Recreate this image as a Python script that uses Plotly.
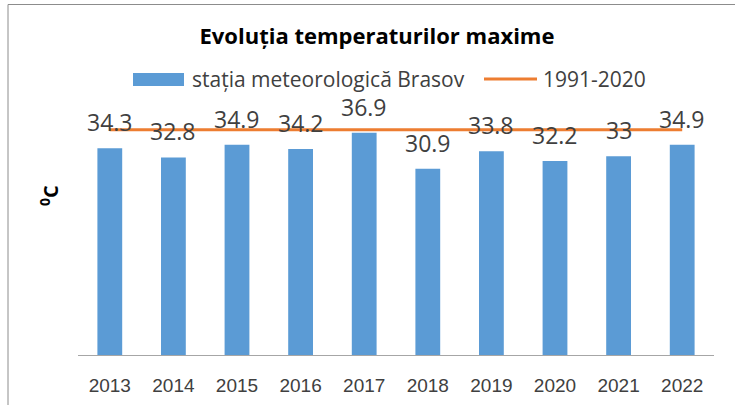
import plotly.graph_objects as go

years = ["2013", "2014", "2015", "2016", "2017", "2018", "2019", "2020", "2021", "2022"]
brasov = [34.3, 32.8, 34.9, 34.2, 36.9, 30.9, 33.8, 32.2, 33.0, 34.9]
normal_1991_2020 = [37.4] * len(years)
label_text = ["34.3", "32.8", "34.9", "34.2", "36.9", "30.9", "33.8", "32.2", "33", "34.9"]
series_names = ["stația meteorologică Brasov", "1991-2020"]
bar_color = "#5B9BD5"
line_color = "#ED7D31"

W, H = 735, 405
L, R, T, B = 78, 21, 114, 50
pw, ph = W - L - R, H - T - B

def px_x(px):
    return (px - L) / pw

def px_y(py):
    return (H - B - py) / ph

fig = go.Figure()
fig.add_trace(go.Bar(
    x=years, y=brasov, name=series_names[0], showlegend=False,
    marker=dict(color=bar_color, line=dict(width=0)),
))
fig.add_trace(go.Scatter(
    x=years, y=normal_1991_2020, name=series_names[1], mode="lines", showlegend=False,
    line=dict(color=line_color, width=3),
))

annotations = []
for i, (v, t) in enumerate(zip(brasov, label_text)):
    annotations.append(dict(
        x=i, y=v, xref="x", yref="y", text=t, showarrow=False,
        yanchor="middle", yshift=26,
        font=dict(family="Open Sans", size=23, color="#404040"),
    ))

# y-axis title (placed like the original, above the vertical centre)
annotations.append(dict(
    x=px_x(49), y=px_y(196), xref="paper", yref="paper", text="<b><sup>0</sup>C</b>",
    textangle=-90, showarrow=False, xanchor="center", yanchor="middle",
    font=dict(family="Open Sans", size=20, color="#000000"),
))

# legend texts
legend_font = dict(family="Open Sans", size=21, color="#404040")
annotations.append(dict(
    x=px_x(190), y=px_y(79), xref="paper", yref="paper", text=series_names[0],
    showarrow=False, xanchor="left", yanchor="middle", font=legend_font,
))
annotations.append(dict(
    x=px_x(541), y=px_y(79), xref="paper", yref="paper", text=series_names[1],
    showarrow=False, xanchor="left", yanchor="middle", font=legend_font,
))

shapes = [
    dict(type="line", xref="paper", yref="paper", x0=px_x(8), x1=px_x(740),
         y0=px_y(4.5), y1=px_y(4.5), line=dict(color="#8c8c8c", width=1)),
    dict(type="line", xref="paper", yref="paper", x0=px_x(8), x1=px_x(8),
         y0=px_y(4.5), y1=px_y(410), line=dict(color="#8c8c8c", width=1)),
    # legend symbols
    dict(type="rect", xref="paper", yref="paper", x0=px_x(133), x1=px_x(184),
         y0=px_y(86), y1=px_y(73), fillcolor=bar_color, line=dict(width=0)),
    dict(type="line", xref="paper", yref="paper", x0=px_x(484), x1=px_x(537),
         y0=px_y(79), y1=px_y(79), line=dict(color=line_color, width=3)),
]

fig.update_layout(
    width=W, height=H,
    margin=dict(l=L, r=R, t=T, b=B, autoexpand=False),
    paper_bgcolor="white", plot_bgcolor="white",
    bargap=0.61,
    showlegend=False,
    title=dict(text="<b>Evoluția temperaturilor maxime</b>", x=px_x(377), xref="paper",
               xanchor="center", y=1 - 36 / H, yanchor="middle",
               font=dict(family="Open Sans", size=22, color="#000000")),
    xaxis=dict(type="category", categoryorder="array", categoryarray=years,
               range=[-0.5, len(years) - 0.5], automargin=False,
               showline=True, linecolor="#a6a6a6", linewidth=1, ticks="outside",
               ticklen=13, tickcolor="rgba(0,0,0,0)",
               showgrid=False,
               tickfont=dict(family="Liberation Sans, Arial, sans-serif", size=19, color="#404040")),
    yaxis=dict(range=[0, 40], showgrid=False, showline=False, showticklabels=False, ticks="",
               zeroline=False, automargin=False),
    annotations=annotations,
    shapes=shapes,
)

fig.write_html("out.html", config={"displayModeBar": False},
               post_script="document.body.style.margin='0';")
